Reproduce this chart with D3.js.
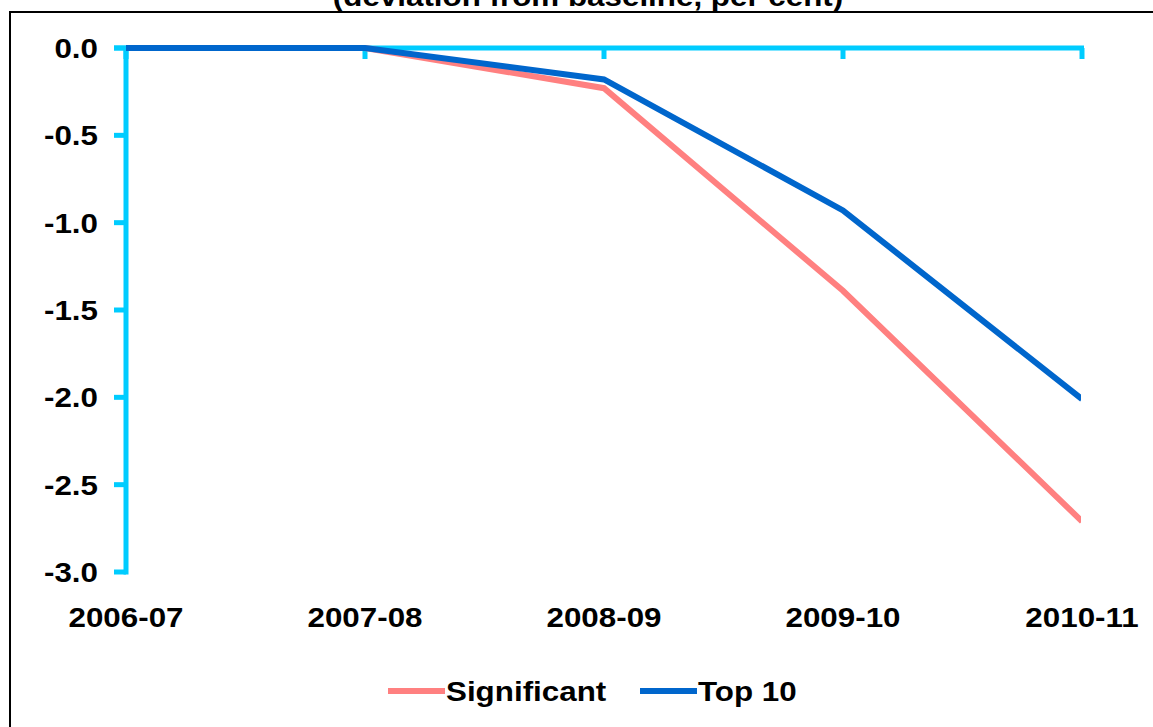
<!DOCTYPE html>
<html>
<head>
<meta charset="utf-8">
<script src="https://cdn.jsdelivr.net/npm/d3@7"></script>
<style>
  html, body { margin: 0; padding: 0; background: #fff; }
  svg { display: block; }
  text { font-family: "Liberation Sans", Arial, sans-serif; font-weight: bold; fill: #000; }
</style>
</head>
<body>
<svg id="chart" width="1153" height="727"></svg>
<script>
// Financial years on the category axis
const years = ["2006-07", "2007-08", "2008-09", "2009-10", "2010-11"];
// Deviation from baseline, per cent
const significant = [0, 0, -0.23, -1.39, -2.71];
const top10 = [0, 0, -0.18, -0.93, -2.01];
const yTicks = [0, -0.5, -1, -1.5, -2, -2.5, -3];
const seriesNames = ["Significant", "Top 10"];
const seriesColors = ["#FF8080", "#0066CC"];

const svg = d3.select("#chart");
const axisColor = "#00CCFF";
const widen = 1.12; // slightly wide lettering

// Text placed at (px, py) and widened horizontally about its anchor
function label(parent, px, py, str, size, anchor, dy) {
  return parent.append("text")
    .attr("transform", `translate(${px},${py}) scale(${widen},1)`)
    .attr("text-anchor", anchor || "start")
    .attr("dy", dy || 0)
    .style("font-size", size + "px")
    .text(str);
}

// Outer frame
svg.append("rect")
  .attr("x", 10).attr("y", 12)
  .attr("width", 1300).attr("height", 900)
  .attr("fill", "none").attr("stroke", "#000").attr("stroke-width", 2);

// Title (runs off the top edge)
label(svg, 588, 6, "(deviation from baseline, per cent)", 28, "middle");

const x = d3.scalePoint().domain(years).range([126, 1082]);
const y = d3.scaleLinear().domain([-3, 0]).range([572, 48]);
const fmt = v => d3.format(".1f")(v).replace("\u2212", "-");

// Y axis: vertical line with ticks to the left
const yAxis = svg.append("g");
yAxis.append("line")
  .attr("x1", 126).attr("x2", 126)
  .attr("y1", y(0)).attr("y2", y(-3) + 2.5)
  .attr("stroke", axisColor).attr("stroke-width", 5);
yAxis.selectAll("line.tick").data(yTicks).join("line")
  .attr("class", "tick")
  .attr("x1", 114).attr("x2", 126)
  .attr("y1", d => y(d)).attr("y2", d => y(d))
  .attr("stroke", axisColor).attr("stroke-width", 5);
yTicks.forEach(t => label(yAxis, 98, y(t), fmt(t), 28, "end", "0.36em"));

// X axis: horizontal line at zero with ticks pointing down
const xAxis = svg.append("g");
xAxis.append("line")
  .attr("x1", 114).attr("x2", 1084)
  .attr("y1", y(0)).attr("y2", y(0))
  .attr("stroke", axisColor).attr("stroke-width", 5);
xAxis.selectAll("line.tick").data(years).join("line")
  .attr("class", "tick")
  .attr("x1", d => x(d)).attr("x2", d => x(d))
  .attr("y1", y(0)).attr("y2", y(0) + 11)
  .attr("stroke", axisColor).attr("stroke-width", 5);
// Category labels sit below the plot
years.forEach(c => label(xAxis, x(c), 627, c, 28, "middle"));

// Clip the series at the plot edge
svg.append("defs").append("clipPath").attr("id", "plotClip")
  .append("rect").attr("x", 0).attr("y", 0).attr("width", 1081).attr("height", 727);

const line = d3.line().x((d, i) => x(years[i])).y(d => y(d));
const plot = svg.append("g").attr("clip-path", "url(#plotClip)");
[significant, top10].forEach((vals, k) => {
  plot.append("path")
    .datum(vals)
    .attr("d", line)
    .attr("fill", "none")
    .attr("stroke", seriesColors[k])
    .attr("stroke-width", 6)
    .attr("stroke-linejoin", "miter");
});

// Legend
const legendX = [388, 640];
const lg = svg.append("g");
seriesNames.forEach((name, k) => {
  const x0 = legendX[k];
  lg.append("line")
    .attr("x1", x0).attr("x2", x0 + 57)
    .attr("y1", 691).attr("y2", 691)
    .attr("stroke", seriesColors[k]).attr("stroke-width", 6);
  label(lg, x0 + 58, 701, name, 28, "start");
});
</script>
</body>
</html>
